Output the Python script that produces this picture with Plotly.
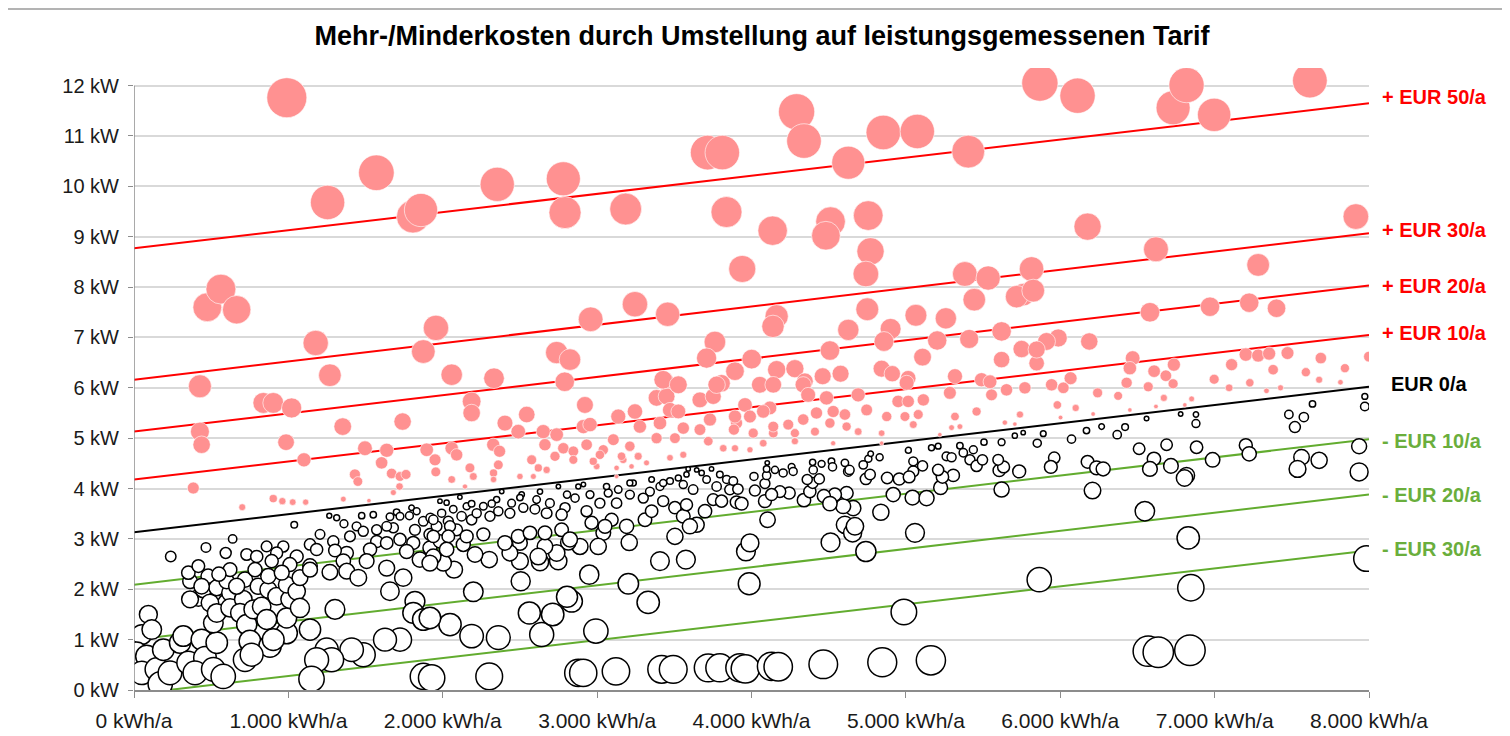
import numpy as np
import plotly.graph_objects as go

# ---------------- data ----------------
X_TICKS = [0, 1000, 2000, 3000, 4000, 5000, 6000, 7000, 8000]
X_TICK_TEXT = ["0 kWh/a", "1.000 kWh/a", "2.000 kWh/a", "3.000 kWh/a", "4.000 kWh/a",
               "5.000 kWh/a", "6.000 kWh/a", "7.000 kWh/a", "8.000 kWh/a"]
Y_TICKS = list(range(0, 13))
Y_TICK_TEXT = [f"{v} kW" for v in Y_TICKS]

# tariff iso-cost lines: value at 0 kWh/a and at 8.000 kWh/a
line_labels = ["+ EUR 50/a", "+ EUR 30/a", "+ EUR 20/a", "+ EUR 10/a",
               "EUR 0/a", "- EUR 10/a", "- EUR 20/a", "- EUR 30/a"]
line_at_0 = [8.77, 6.16, 5.13, 4.18, 3.13, 2.09, 1.00, -0.08]
line_at_8000 = [11.65, 9.07, 8.03, 7.05, 6.02, 4.98, 3.88, 2.77]
line_x = [0, 8000]

# households with additional costs (kWh/a, kW)
red_high = [(990, 11.76), (1570, 10.27), (1254, 9.68), (1807, 9.40), (1859, 9.53), (475, 7.60),
            (563, 7.96), (665, 7.55), (1177, 6.89), (1269, 6.25), (1874, 6.72), (1956, 7.19),
            (427, 6.03), (2353, 10.04), (2781, 10.15), (2792, 9.48), (3185, 9.55), (3716, 10.67),
            (3811, 10.67), (3838, 9.49), (3940, 8.36), (2958, 7.36), (3245, 7.66), (3457, 7.46),
            (2738, 6.70), (2824, 6.56), (2058, 6.26), (2332, 6.19), (2790, 6.12), (3763, 6.91),
            (3709, 6.59), (3439, 6.13), (3806, 6.09), (3893, 6.33), (4292, 11.48), (4340, 10.90),
            (4627, 10.47), (4854, 11.07), (5074, 11.09), (5404, 10.69), (5868, 12.05), (4137, 9.12),
            (4512, 9.30), (4482, 9.02), (4756, 9.42), (4771, 8.71), (4741, 8.26), (5382, 8.26),
            (5533, 8.18), (5814, 8.36), (5760, 7.85), (5717, 7.81), (5443, 7.75), (4163, 7.42),
            (4139, 7.22), (4750, 7.56), (4627, 7.15), (4901, 7.17), (4858, 6.92), (5065, 7.44),
            (5259, 7.38), (5203, 6.94), (5410, 6.97), (5620, 7.12), (5750, 6.77), (4508, 6.74),
            (5108, 6.61), (4001, 6.57), (4163, 6.36), (4281, 6.38), (4346, 6.13), (4461, 6.23),
            (4577, 6.28), (4843, 6.38), (4912, 6.28), (5015, 6.19), (5318, 6.23), (5490, 6.16),
            (5620, 6.56), (5847, 6.49), (6112, 11.80), (6731, 11.56), (6818, 12.01), (6997, 11.42),
            (7617, 12.10), (6177, 9.20), (7915, 9.40), (6620, 8.75), (7282, 8.44), (5825, 7.93),
            (6581, 7.50), (6970, 7.61), (7224, 7.69), (7401, 7.58), (5987, 6.99), (5911, 6.92),
            (5847, 6.76), (6188, 6.92), (6469, 6.59), (6451, 6.39), (6736, 6.46), (6608, 6.33),
            (6684, 6.24), (7110, 6.46), (7202, 6.66), (7282, 6.64), (7353, 6.68), (7472, 6.69),
            (7688, 6.59), (7379, 6.36), (7591, 6.31), (7844, 6.39), (8000, 6.62), (6997, 6.17),
            (7228, 6.10), (7677, 6.16), (7815, 6.11), (6067, 6.19), (6430, 6.10)]

red_low = [(5944, 6.06), (6020, 6.00), (6242, 5.90), (6375, 5.84), (6570, 6.02), (6731, 6.08),
           (6671, 5.80), (5981, 5.66), (6100, 5.60), (6213, 5.48), (6451, 5.56), (6620, 5.63),
           (6851, 5.78), (6807, 5.66), (7094, 6.00), (7336, 5.94), (7427, 6.00), (6002, 5.41),
           (4054, 6.06), (4119, 5.60), (4076, 5.53), (3958, 5.66), (3990, 5.43), (3903, 5.30),
           (4011, 5.10), (4141, 5.10), (4076, 4.90), (4141, 5.23), (4238, 5.27), (4281, 5.10),
           (4281, 4.94), (4335, 6.06), (4367, 5.86), (4335, 5.37), (4411, 5.13), (4421, 5.50),
           (4486, 5.80), (4529, 5.53), (4508, 5.30), (4605, 5.47), (4616, 5.23), (4691, 5.86),
           (4691, 5.13), (4746, 5.56), (4843, 5.10), (4876, 5.43), (4950, 5.73), (5015, 5.73),
           (4994, 5.43), (5048, 5.27), (5113, 5.76), (5080, 5.47), (5005, 6.10), (5285, 5.90),
           (5318, 5.43), (5350, 5.23), (5296, 5.21), (5458, 5.53), (5555, 5.86), (5652, 5.96),
           (5739, 5.47), (5641, 5.31), (5706, 5.28), (5545, 6.12), (5771, 6.00), (4141, 6.06),
           (3893, 4.80), (3990, 4.77), (4529, 4.90), (4843, 4.90), (5220, 5.07)]

red_left = [(2187, 5.73), (2187, 5.50), (2403, 5.30), (2544, 5.47), (2489, 5.13), (2327, 4.87),
            (2368, 4.74), (2360, 4.47), (2329, 4.31), (2329, 4.18), (2058, 4.80), (2090, 4.67),
            (1950, 4.57), (1955, 4.33), (2058, 4.18), (2144, 4.04), (2176, 4.41), (2651, 5.13),
            (2662, 4.87), (2738, 5.07), (2781, 4.80), (2921, 5.66), (2911, 5.23), (2954, 5.27),
            (2846, 4.74), (2932, 4.87), (2846, 4.57), (2727, 4.64), (2576, 4.57), (2619, 4.41),
            (2673, 4.37), (2587, 4.24), (2997, 4.44), (3040, 4.77), (3105, 4.97), (3137, 5.43),
            (3245, 5.53), (3277, 5.23), (3212, 4.84), (3266, 4.64), (3169, 4.57), (3126, 4.41),
            (3158, 4.64), (3385, 5.00), (3385, 5.80), (3450, 5.83), (3472, 5.56), (3428, 6.16),
            (3407, 5.30), (3526, 5.53), (3526, 6.06), (3558, 5.20), (3504, 5.00), (3558, 4.67),
            (3472, 4.61), (3666, 5.76), (3752, 5.83), (3731, 5.37), (3666, 5.17), (3720, 4.94),
            (3817, 4.80), (3774, 6.06), (3893, 5.43), (3886, 5.17), (3320, 4.51), (3223, 4.44),
            (3018, 4.67), (3126, 4.24), (2975, 4.54), (2198, 4.24), (2500, 4.24),
            (838, 5.70), (902, 5.70), (1021, 5.60), (427, 5.13), (438, 4.87), (985, 4.92),
            (1101, 4.57), (1352, 5.23), (1740, 5.33), (1496, 4.80), (1637, 4.76), (1604, 4.51),
            (1431, 4.28), (1450, 4.14), (1669, 4.30), (1723, 4.24), (1762, 4.28), (1720, 4.04),
            (1680, 3.92), (1896, 4.77), (384, 4.01), (701, 3.63), (902, 3.80), (961, 3.75),
            (1028, 3.73), (1112, 3.73), (1356, 3.79), (1522, 3.76)]

# households with savings (kWh/a, kW)
black_right = [(4130, 0.47), (4173, 0.46), (4465, 0.51), (4847, 0.55), (5162, 0.59), (6570, 0.77),
               (6635, 0.75), (6840, 0.79), (4987, 1.55), (3985, 2.11), (5864, 2.19), (6846, 2.03),
               (7984, 2.61), (6829, 3.02), (6548, 3.55), (3964, 2.75), (3990, 2.92), (4512, 2.93),
               (4741, 2.75), (5059, 3.12), (4104, 3.38), (4838, 3.53), (4659, 3.61), (4594, 3.65),
               (5620, 3.98), (4918, 3.88), (5043, 3.82), (5134, 3.81), (5225, 4.02), (5307, 4.26),
               (5237, 4.23), (5209, 4.37), (5734, 4.34), (5605, 4.36), (5633, 4.43), (5598, 4.57),
               (5048, 4.34), (5048, 4.54), (5108, 4.45), (4957, 4.19), (5021, 4.23), (4879, 4.21),
               (4741, 4.19), (4768, 4.28), (4627, 4.34), (4616, 3.91), (4540, 3.88), (4469, 3.85),
               (4508, 3.70), (4340, 3.77), (4244, 3.91), (4184, 3.94), (4087, 3.75), (4130, 3.88),
               (3936, 3.70), (4022, 3.96), (3912, 3.99), (4087, 4.10), (4378, 3.94), (4396, 4.11),
               (4361, 4.18), (4439, 4.19), (4016, 4.24), (4098, 4.26), (4098, 4.39), (4205, 4.31),
               (4152, 4.37), (4260, 4.43), (4270, 4.34), (4396, 4.52), (4400, 4.37), (4454, 4.49),
               (4518, 4.54), (4525, 4.43), (4605, 4.51), (4635, 4.37), (4724, 4.47), (4757, 4.59),
               (4830, 4.62), (4772, 4.69), (5016, 4.76), (5166, 4.81), (5209, 4.84), (5263, 4.64),
               (5296, 4.62), (5350, 4.85), (5372, 4.71), (5437, 4.77), (5415, 4.57), (5458, 4.45),
               (5506, 4.92), (5496, 4.57), (5620, 4.92), (5706, 5.05), (5760, 5.11), (5851, 4.90),
               (4102, 4.51), (4605, 3.28), (4655, 3.12), (4670, 3.25),
               (5890, 5.09), (6073, 4.98), (6170, 5.15), (6268, 5.23), (6369, 5.07), (6420, 5.22),
               (6559, 5.39), (6780, 5.48), (6879, 5.47), (6879, 5.29), (7481, 5.47), (7578, 5.42),
               (7520, 5.22), (7634, 5.68), (7973, 5.83), (7973, 5.63), (5961, 4.61), (5939, 4.43),
               (6177, 4.53), (6235, 4.41), (6278, 4.39), (6209, 3.96), (6511, 4.79), (6607, 4.59),
               (6581, 4.39), (6689, 4.87), (6717, 4.45), (6818, 4.26), (6805, 4.21), (6883, 4.82),
               (6987, 4.57), (7202, 4.86), (7224, 4.69), (7563, 4.62), (7537, 4.39), (7677, 4.56),
               (7936, 4.84), (7936, 4.33)]

black_mid = [(1928, 0.24), (2301, 0.27), (2878, 0.34), (2910, 0.34), (3122, 0.37), (3418, 0.41),
             (3493, 0.41), (3720, 0.44), (3795, 0.44), (3925, 0.44), (3960, 0.42),
             (2047, 1.30), (1917, 1.43), (2187, 1.07), (2360, 1.04), (2641, 1.10), (2561, 1.53),
             (2712, 1.50), (2992, 1.17), (2835, 1.76), (2805, 1.85), (3331, 1.74), (2198, 1.95),
             (2505, 2.16), (2949, 2.29), (3202, 2.11), (2073, 2.39), (2500, 2.56), (2630, 2.54),
             (2748, 2.56), (2301, 2.59), (2004, 2.52), (3407, 2.56), (3575, 2.59), (3208, 2.93),
             (3504, 3.05), (3040, 3.12), (2889, 2.85), (3007, 2.85), (2813, 2.93), (2738, 2.72),
             (2662, 2.85), (2619, 2.65), (2500, 2.92), (2435, 2.72), (2403, 2.92), (2209, 2.69),
             (2133, 2.89), (1982, 2.95), (1939, 2.65), (2090, 3.18), (2263, 3.09), (2187, 3.38),
             (2036, 3.35), (1960, 3.25), (2489, 3.05), (2565, 3.12), (2662, 3.12), (2770, 3.18),
             (2824, 2.99), (2964, 3.32), (3094, 3.38), (3051, 3.25), (3191, 3.25), (3310, 3.38),
             (3353, 3.55), (3428, 3.75), (3504, 3.62), (3558, 3.45), (3579, 3.68), (3645, 3.28),
             (3601, 3.25), (3699, 3.55), (3752, 3.78), (3774, 4.04), (3806, 3.75), (3860, 3.98),
             (3903, 3.73), (3622, 3.98), (3558, 4.08), (3579, 4.28), (3645, 4.37), (3709, 4.18),
             (3795, 4.28), (3839, 4.18), (3882, 4.15), (3472, 4.15), (3407, 4.04), (3342, 3.94),
             (3353, 4.18), (3299, 3.81), (3212, 3.88), (3234, 4.11), (3137, 3.98), (3072, 3.91),
             (3126, 3.71), (3018, 3.71), (2954, 3.88), (2932, 3.55), (2857, 3.81), (2878, 4.04),
             (2805, 3.88), (2792, 3.62), (2770, 3.48), (2673, 3.51), (2694, 3.71), (2608, 3.78),
             (2597, 3.59), (2630, 3.94), (2522, 3.62), (2511, 3.88), (2435, 3.51), (2446, 3.71),
             (2360, 3.55), (2349, 3.78), (2306, 3.45), (2263, 3.65), (2220, 3.51), (2155, 3.65),
             (2122, 3.45), (2068, 3.59), (2047, 3.25), (1993, 3.51), (1939, 3.38), (1939, 3.05),
             (2036, 3.05), (2155, 3.05), (2025, 2.79), (1917, 2.52), (1982, 3.75), (2025, 3.72),
             (2111, 3.83), (2187, 3.70), (2317, 3.70), (2382, 3.94), (2500, 3.82), (2749, 4.04),
             (2911, 4.08), (3061, 4.04), (3212, 4.11), (3428, 4.11), (3526, 4.21), (3590, 4.39),
             (3677, 4.31), (3741, 4.39)]

black_left = [(1038, 3.28), (639, 3.00), (466, 2.83), (238, 2.65), (594, 2.72), (1205, 3.09),
              (1265, 3.46), (1313, 3.42), (1475, 3.46), (1550, 3.48), (1360, 3.30), (1658, 3.44),
              (1701, 3.53), (1723, 3.45), (1798, 3.62), (1784, 3.46), (1874, 3.35), (1920, 3.42),
              (1831, 3.55), (1680, 3.22), (1572, 3.18), (1442, 3.25), (1572, 2.95), (1723, 2.99),
              (1809, 2.92), (1820, 3.18), (1637, 3.25), (1485, 3.15), (1399, 3.05), (1291, 2.95),
              (1140, 2.89), (1917, 3.09), (1917, 2.82), (1852, 2.59), (1766, 2.75), (1637, 2.92),
              (1529, 2.79), (1378, 2.72), (1302, 2.77), (1183, 2.79), (967, 2.85), (859, 2.85),
              (730, 2.69), (795, 2.65), (924, 2.72), (1054, 2.65), (1010, 2.49), (1140, 2.46),
              (1269, 2.34), (1356, 2.56), (1507, 2.56), (1637, 2.42), (1378, 2.36), (1453, 2.23),
              (1744, 2.23), (1658, 1.96), (1820, 1.76), (1809, 1.53), (1874, 1.40), (1723, 1.00),
              (1626, 1.00), (1485, 0.70), (1410, 0.80), (1248, 0.80), (1280, 0.60), (1183, 0.60),
              (1150, 0.22), (1874, 0.27), (1302, 1.60), (1140, 1.20), (989, 1.13),
              (93, 1.50), (50, 1.10), (115, 1.20), (17, 0.74), (82, 0.67), (50, 0.34), (147, 0.41),
              (170, 0.12), (190, 0.80), (233, 0.34), (298, 0.94), (319, 1.07), (352, 0.54),
              (438, 1.00), (460, 0.64), (395, 0.34), (514, 0.41), (578, 0.27), (536, 0.94),
              (514, 1.33), (600, 1.73), (417, 1.83), (363, 2.16), (363, 1.80), (449, 1.99),
              (492, 1.73), (480, 2.26), (536, 2.03), (536, 1.53), (622, 1.93), (622, 1.63),
              (600, 2.16), (622, 2.39), (708, 1.80), (719, 2.19), (687, 1.53), (730, 1.30),
              (773, 1.60), (805, 2.06), (827, 1.66), (860, 1.40), (870, 1.99), (870, 2.26),
              (924, 1.86), (751, 0.97), (881, 0.87), (902, 1.00), (719, 0.60), (762, 0.70),
              (989, 1.43), (1010, 1.80), (989, 2.09), (957, 2.33), (1054, 1.96), (1075, 2.23),
              (1140, 2.39), (1075, 1.63), (352, 2.33), (417, 2.46), (438, 2.06), (665, 2.06),
              (892, 2.56), (784, 2.39), (550, 2.30)]

# ---------------- figure ----------------
base_idx = line_labels.index("EUR 0/a")


def deviation(points):
    xs = np.array([p[0] for p in points], dtype=float)
    ys = np.array([p[1] for p in points], dtype=float)
    base = np.interp(xs, line_x, [line_at_0[base_idx], line_at_8000[base_idx]])
    return xs, ys, np.abs(ys - base)


fig = go.Figure()

line_colors = ["#ff0000", "#ff0000", "#ff0000", "#ff0000", "#000000", "#62ac2f", "#62ac2f", "#62ac2f"]
label_colors = ["#ff0000", "#ff0000", "#ff0000", "#ff0000", "#000000", "#6aae3c", "#6aae3c", "#6aae3c"]
label_yshift = [6, 3, 0, 2, 3, -2, 0, 1]

for lab, y0, y1, c in zip(line_labels, line_at_0, line_at_8000, line_colors):
    fig.add_trace(go.Scatter(x=line_x, y=[y0, y1], mode="lines",
                             line=dict(color=c, width=2), hoverinfo="skip", name=lab))

SIZEREF = 2.0 / (13.9 ** 2)

xs, ys, ss = deviation(red_high + red_low + red_left)
fig.add_trace(go.Scatter(x=xs, y=ys, mode="markers", name="Mehrkosten",
                         marker=dict(size=ss, sizemode="area", sizeref=SIZEREF, sizemin=2.2,
                                     color="#ff9191", opacity=1,
                                     line=dict(width=0.6, color="#ffffff"))))

xs, ys, ss = deviation(black_left + black_mid + black_right)
fig.add_trace(go.Scatter(x=xs, y=ys, mode="markers", name="Minderkosten",
                         marker=dict(size=ss, sizemode="area", sizeref=SIZEREF, sizemin=2.2,
                                     color="#ffffff", opacity=1,
                                     line=dict(width=1.5, color="#000000"))))

FONT = "Liberation Sans, Arial, sans-serif"

for lab, y1, c, dy in zip(line_labels, line_at_8000, label_colors, label_yshift):
    fig.add_annotation(x=8000, y=y1, xref="x", yref="y", text=f"<b>{lab}</b>",
                       showarrow=False, xanchor="left", yanchor="middle",
                       xshift=11 if lab.startswith(("+", "-")) else 20, yshift=dy,
                       font=dict(family=FONT, size=20, color=c))

# the page adds an 8 px body margin, so the figure is sized 8 px smaller
W, H = 1502, 728
ML, MR, MT, MB = 126, 141, 60, 46
PW, PH = W - ML - MR, H - MT - MB

fig.update_layout(
    width=W, height=H,
    margin=dict(l=ML, r=MR, t=MT, b=MB),
    paper_bgcolor="white", plot_bgcolor="white",
    showlegend=False,
    title=dict(text="<b>Mehr-/Minderkosten durch Umstellung auf leistungsgemessenen Tarif</b>",
               x=(762 - 8) / W, xanchor="center", y=1 - 28 / H, yanchor="middle",
               font=dict(family=FONT, size=27, color="#000000")),
    xaxis=dict(range=[0, 8000], tickvals=X_TICKS, ticktext=X_TICK_TEXT, automargin=False,
               showgrid=False, zeroline=False, showline=True, linecolor="#8c8c8c",
               linewidth=1.5, ticks="outside", ticklen=6, tickcolor="#8c8c8c",
               ticklabelstandoff=5,
               tickfont=dict(family=FONT, size=21, color="#1a1a1a")),
    yaxis=dict(range=[0, 12.35], tickvals=Y_TICKS, ticktext=Y_TICK_TEXT, automargin=False,
               showgrid=True, gridcolor="#d9d9d9", gridwidth=1.5, zeroline=False,
               showline=False, ticks="outside", ticklen=5, tickcolor="#8c8c8c",
               ticklabelstandoff=5,
               tickfont=dict(family=FONT, size=20, color="#1a1a1a")),
    shapes=[dict(type="line", xref="x", yref="y", x0=0, x1=0, y0=0, y1=12,
                 line=dict(color="#8c8c8c", width=1.5), layer="above"),
            dict(type="line", xref="paper", yref="paper", x0=-ML / PW, x1=1 + MR / PW,
                 y0=1 + (MT - 1) / PH, y1=1 + (MT - 1) / PH,
                 line=dict(color="#9a9a9a", width=1.5))],
)

fig.write_html("out.html")
